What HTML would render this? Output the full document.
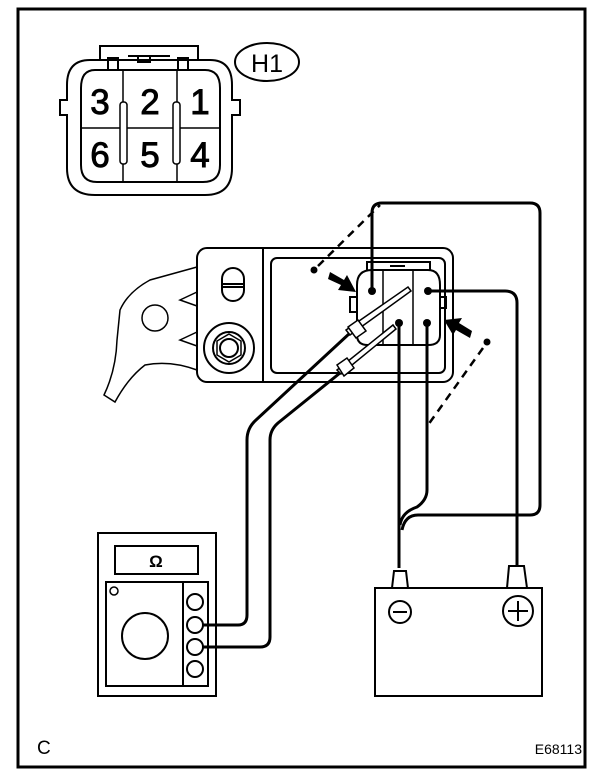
<!DOCTYPE html>
<html><head><meta charset="utf-8"><style>
html,body{margin:0;padding:0;background:#fff}
svg{display:block}
text{font-family:"Liberation Sans",sans-serif;fill:#000}
</style></head><body>
<svg width="608" height="782" viewBox="0 0 608 782" xmlns="http://www.w3.org/2000/svg" fill="none" stroke="#000">
<rect x="18" y="9" width="567" height="758" stroke-width="3"/>

<g stroke-width="2">
<path d="M100 60 V46 H198 V60"/>
<path d="M90 60 H210 Q232 60 232 85 V100 H240 V115 H232 V168 Q232 195 205 195 H95 Q67 195 67 168 V115 H60 V100 H67 V85 Q67 60 90 60 Z"/>
<path d="M95 70 H205 Q220 70 220 88 V165 Q220 182 203 182 H97 Q81 182 81 165 V88 Q81 70 95 70 Z"/>
<path d="M108 70 V58 H118 V70 M178 70 V58 H188 V70 M128 56 H170 M138 56 V62 H150 V56"/>
<line x1="123" y1="70" x2="123" y2="182" stroke-width="1.5"/>
<line x1="177" y1="70" x2="177" y2="182" stroke-width="1.5"/>
<line x1="81" y1="128" x2="220" y2="128" stroke-width="1.5"/>
</g>
<rect x="120" y="102" width="7" height="62" rx="3" fill="#fff" stroke-width="1.5"/>
<rect x="173" y="102" width="7" height="62" rx="3" fill="#fff" stroke-width="1.5"/>
<g font-size="35" text-anchor="middle" stroke="#000" stroke-width="0.9">
<text x="100" y="114">3</text>
<text x="150" y="114">2</text>
<text x="200" y="114">1</text>
<text x="100" y="167">6</text>
<text x="150" y="167">5</text>
<text x="200" y="167">4</text>
</g>
<ellipse cx="267" cy="62" rx="32" ry="19" stroke-width="2"/>
<text x="267" y="72" font-size="25" text-anchor="middle" stroke="none">H1</text>

<g stroke-width="1.5">
<path d="M197 267 L150 280 Q128 292 120 310 L117 340 Q116 370 104 395 L115 402 Q128 378 145 365 Q170 360 197 370"/>
<circle cx="155" cy="318" r="13"/>
<path d="M197 292 L180 300 L197 306 M197 332 L180 340 L197 346"/>
</g>
<g stroke-width="2">
<rect x="197" y="248" width="256" height="134" rx="10"/>
<line x1="263" y1="248" x2="263" y2="382"/>
<rect x="271" y="258" width="174" height="115" rx="6"/>
<rect x="222" y="268" width="22" height="33" rx="11"/>
<line x1="222" y1="284" x2="244" y2="284"/>
<line x1="222" y1="287" x2="244" y2="287"/>
<circle cx="229" cy="348" r="25"/>
<circle cx="229" cy="348" r="16"/>
<polygon points="229,334 241,341 241,355 229,362 217,355 217,341" stroke-width="1.5"/>
<circle cx="229" cy="348" r="9"/>
</g>
<g stroke-width="2">
<path d="M372 270 H428 Q440 270 440 285 V335 Q440 345 428 345 H368 Q357 345 357 335 V285 Q357 270 372 270 Z"/>
<path d="M357 297 H350 V312 H357 M440 297 H446 V308 H440"/>
<path d="M367 270 V262 H430 V270 M390 266 H405"/>
<line x1="383" y1="270" x2="383" y2="345" stroke-width="1.5"/>
<line x1="413" y1="270" x2="413" y2="345" stroke-width="1.5"/>
</g>
<g stroke-width="3">
<path d="M372 291 V213 Q372 203 382 203 H530 Q540 203 540 213 V505 Q540 515 530 515 H418 Q405 515 402 530"/>
<path d="M428 291 H505 Q517 291 517 303 V565"/>
<path d="M399 323 V568"/>
<path d="M427 323 V490 Q427 500 417 507 Q402 512 400 525"/>
<path d="M203 625 H238 Q247 625 247 615 V440 Q247 428 256 420 L350 333"/>
<path d="M203 647 H260 Q270 647 270 637 V440 Q270 430 278 423 L340 373"/>
</g>
<g fill="#000" stroke="none">
<circle cx="372" cy="291" r="4"/><circle cx="428" cy="291" r="4"/>
<circle cx="399" cy="323" r="4"/><circle cx="427" cy="323" r="4"/>
<circle cx="314" cy="270" r="3.5"/><circle cx="487" cy="342" r="3.5"/>
<polygon points="330,272 344,280 347,275 356,292 338,290 341,285 328,279"/>
<polygon points="470,338 456,330 453,335 444,320 462,318 459,323 472,331"/>
</g>
<g stroke-width="1.5" fill="#fff">
<polygon points="346,330 408,287 411,291 350,335"/>
<polygon points="337,370 393,325 396,329 341,374"/>
<polygon points="348,327 358,320 366,331 356,338"/>
<polygon points="337,365 347,358 354,368 344,376"/>
</g>
<g stroke-width="2.5" stroke-dasharray="8,6">
<line x1="318" y1="266" x2="380" y2="205"/>
<line x1="483" y1="348" x2="428" y2="425"/>
</g>

<g stroke-width="2">
<rect x="98" y="533" width="118" height="163"/>
<rect x="115" y="546" width="83" height="28"/>
<rect x="106" y="582" width="77" height="104"/>
<rect x="183" y="582" width="25" height="104"/>
<circle cx="145" cy="636" r="23"/>
<circle cx="114" cy="591" r="4" stroke-width="1.5"/>
<circle cx="195" cy="602" r="8"/><circle cx="195" cy="625" r="8"/>
<circle cx="195" cy="647" r="8"/><circle cx="195" cy="669" r="8"/>
</g>
<text x="156" y="567" font-size="17" font-weight="bold" text-anchor="middle" stroke="none">Ω</text>

<g stroke-width="2">
<rect x="375" y="588" width="167" height="108"/>
<path d="M392 588 L394 571 H406 L408 588"/>
<path d="M507 588 L509 566 H524 L527 588"/>
<circle cx="400" cy="612" r="11"/>
<line x1="393" y1="612" x2="407" y2="612"/>
<circle cx="518" cy="611" r="15"/>
<line x1="508" y1="611" x2="528" y2="611"/>
<line x1="518" y1="601" x2="518" y2="621"/>
</g>

<text x="37" y="754" font-size="19" stroke="none">C</text>
<text x="582" y="754" font-size="14" text-anchor="end" stroke="none">E68113</text>
</svg>
</body></html>
